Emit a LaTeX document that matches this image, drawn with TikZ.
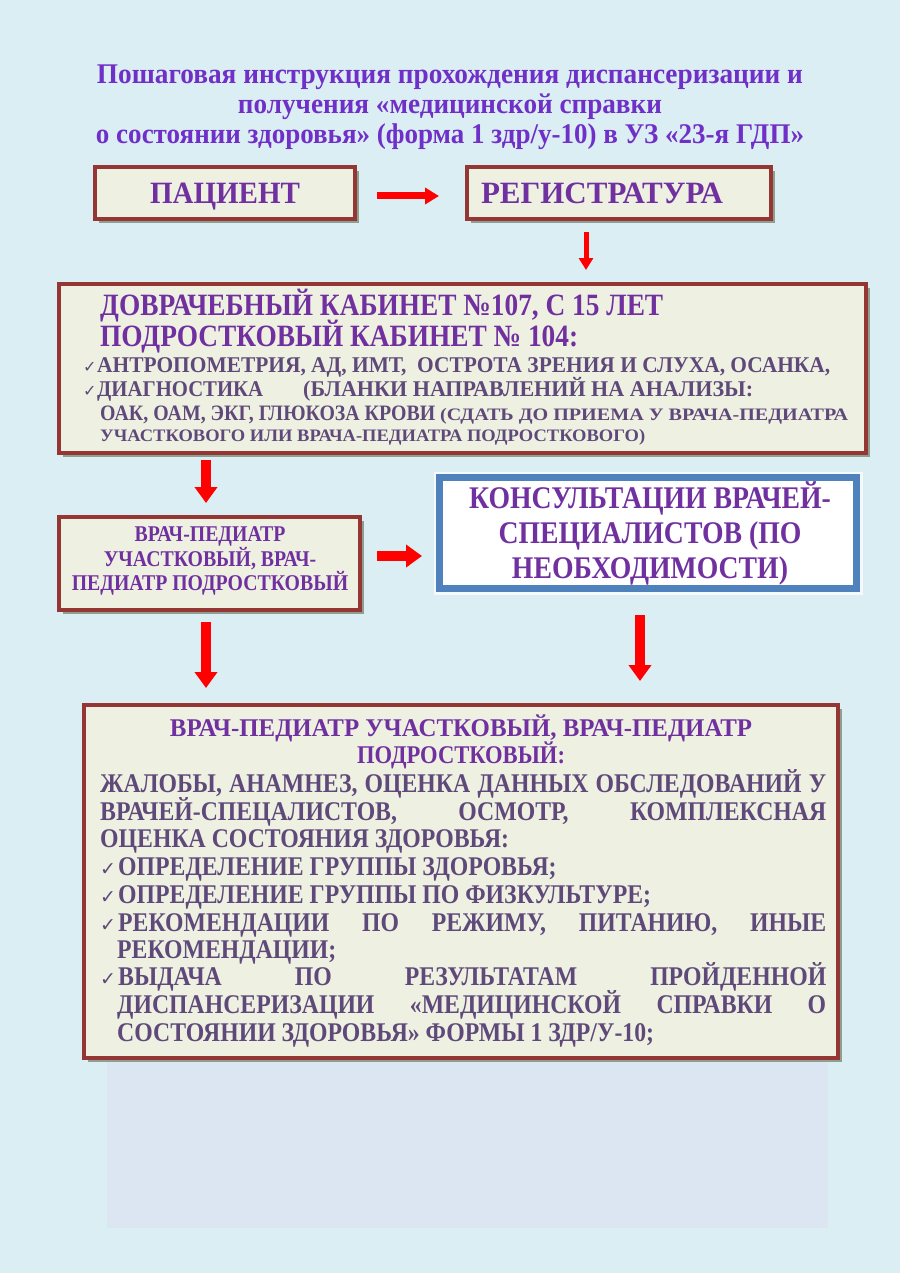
\documentclass[tikz,border=0pt]{standalone}
\usepackage{graphicx}
\usepackage{fontspec}
\setmainfont{Liberation Serif}
\newfontfamily\cfont{Liberation Serif}[FakeStretch=0.88]
\newfontfamily\dejavu{DejaVu Sans}
\usetikzlibrary{arrows.meta,shadows,calc}
\definecolor{bgc}{HTML}{DBEEF4}
\definecolor{palec}{HTML}{DCE6F2}
\definecolor{boxfill}{HTML}{EEF1E1}
\definecolor{boxline}{HTML}{943634}
\definecolor{shadowc}{HTML}{8E9E90}
\definecolor{blueshadow}{HTML}{A4AAB2}
\definecolor{bluel}{HTML}{4F81BD}
\definecolor{titlec}{HTML}{7030C8}
\definecolor{headc}{HTML}{7030A0}
\definecolor{bodyc}{HTML}{5F497A}
\definecolor{arrowc}{HTML}{FF0000}
\newcommand{\fitw}[2]{\resizebox{#1}{\height}{#2}}
\newcommand{\ckm}{\makebox[14pt][l]{\dejavu\fontsize{16}{16}\selectfont ✓}}
\newcommand{\ckb}{\makebox[18pt][l]{\dejavu\fontsize{19}{19}\selectfont ✓}}
\tikzset{
  redbox/.style={draw=boxline, line width=4pt, fill=boxfill,
    drop shadow={shadow xshift=4pt, shadow yshift=-4pt, fill=shadowc, opacity=1},
    inner sep=0pt, text=headc, font=\bfseries},
  bluebox/.style={draw=bluel, line width=7pt, fill=white,
    drop shadow={shadow xshift=4pt, shadow yshift=-5pt, fill=blueshadow, opacity=1},
    preaction={draw=white!70!bgc, line width=12pt},
    inner sep=0pt, text=headc, font=\bfseries},
  txt/.style={inner sep=0pt, anchor=base west, font=\bfseries},
  arrowthin/.style={draw=arrowc, line width=5pt, -{Triangle[length=12pt,width=14pt]}},
  arrowmid/.style={draw=arrowc, line width=7pt, -{Triangle[length=14pt,width=16pt]}},
  arrowthick/.style={draw=arrowc, line width=10pt, -{Triangle[length=16pt,width=22pt]}},
}
\begin{document}
\begin{tikzpicture}[x=1pt,y=-1pt]
\useasboundingbox (0,0) rectangle (900,1273);
\fill[bgc] (0,0) rectangle (900,1273);
\fill[palec] (107,1000) rectangle (828,1228);

% title
\node[align=center, text=titlec, font=\fontsize{28.5}{30}\selectfont\bfseries, inner sep=0pt] (title) at (450,107)
  {\fitw{706pt}{Пошаговая инструкция прохождения диспансеризации и}\\
   \fitw{424pt}{получения «медицинской справки}\\
   \fitw{708pt}{о состоянии здоровья» (форма 1 здр/у-10) в УЗ «23-я ГДП»}};

% boxes
\node[redbox, minimum width=260, minimum height=52, text height=21pt, text depth=0pt,
  font=\fontsize{31}{34}\selectfont\bfseries] (pac) at (225,193) {\fitw{150pt}{ПАЦИЕНТ}};
\node[redbox, minimum width=304, minimum height=52, text height=21pt, text depth=0pt,
  font=\fontsize{31}{34}\selectfont\bfseries] (reg) at (619,193) {\fitw{242pt}{РЕГИСТРАТУРА}\kern34pt};
\node[redbox, minimum width=807, minimum height=169] (box1) at (462.5,368.5) {};
\node[redbox, minimum width=301, minimum height=93] (ped) at (209.5,563.5) {};
\node[bluebox, minimum width=417, minimum height=111] (cons) at (648,533) {};
\node[redbox, minimum width=754, minimum height=353] (final) at (461,881.5) {};

% box1 text
\begin{scope}[every node/.style={txt}]
\node[text=headc, font=\fontsize{31}{31}\selectfont\bfseries] (b1a) at (100,315) {\fitw{563pt}{ДОВРАЧЕБНЫЙ КАБИНЕТ №107, С 15 ЛЕТ}};
\node[text=headc, font=\fontsize{31}{31}\selectfont\bfseries] (b1b) at (100,346) {\fitw{478pt}{ПОДРОСТКОВЫЙ КАБИНЕТ № 104:}};
\node[text=bodyc, font=\fontsize{22.5}{24}\selectfont\bfseries] (b1c) at (83,372) {\ckm\fitw{733pt}{АНТРОПОМЕТРИЯ, АД, ИМТ,\ \ ОСТРОТА ЗРЕНИЯ И СЛУХА, ОСАНКА,}};
\node[text=bodyc, font=\fontsize{22.5}{24}\selectfont\bfseries] (b1d) at (83,396) {\ckm\fitw{166pt}{ДИАГНОСТИКА}\hspace*{40pt}\fitw{450pt}{(БЛАНКИ НАПРАВЛЕНИЙ НА АНАЛИЗЫ:}};
\node[text=bodyc, font=\fontsize{22}{24}\selectfont\bfseries] (b1e) at (100,420) {\fitw{335pt}{ОАК, ОАМ, ЭКГ, ГЛЮКОЗА КРОВИ}\hspace*{5pt}{\fontsize{17.5}{20}\selectfont\fitw{408pt}{(СДАТЬ ДО ПРИЕМА У ВРАЧА-ПЕДИАТРА}}};
\node[text=bodyc, font=\fontsize{17.5}{20}\selectfont\bfseries] (b1f) at (100,441) {\fitw{545pt}{УЧАСТКОВОГО ИЛИ ВРАЧА-ПЕДИАТРА ПОДРОСТКОВОГО)}};
\end{scope}

% ped text
\node[align=center, inner sep=0pt, text=headc, font=\cfont\fontsize{22.5}{22.5}\selectfont\bfseries] (pedt) at (210,561)
  {ВРАЧ-ПЕДИАТР\\ УЧАСТКОВЫЙ, ВРАЧ-\\ ПЕДИАТР ПОДРОСТКОВЫЙ};

% cons text
\node[align=center, inner sep=0pt, text=headc, font=\cfont\fontsize{31.5}{35}\selectfont\bfseries] (const) at (650,533)
  {КОНСУЛЬТАЦИИ ВРАЧЕЙ-\\ СПЕЦИАЛИСТОВ (ПО\\ НЕОБХОДИМОСТИ)};

% final text
\begin{scope}[every node/.style={inner sep=0pt, anchor=base, text=headc, font=\fontsize{25.5}{27}\selectfont\bfseries}]
\node (fh1) at (461,736) {\fitw{582pt}{ВРАЧ-ПЕДИАТР УЧАСТКОВЫЙ, ВРАЧ-ПЕДИАТР}};
\node (fh2) at (461,763) {\fitw{208pt}{ПОДРОСТКОВЫЙ:}};
\end{scope}
\begin{scope}[every node/.style={txt, text=bodyc, font=\cfont\fontsize{27}{28}\selectfont\bfseries}]
\node (f1) at (100,792) {\makebox[726pt][s]{ЖАЛОБЫ, АНАМНЕЗ, ОЦЕНКА ДАННЫХ ОБСЛЕДОВАНИЙ У}};
\node (f2) at (100,820) {\makebox[726pt][s]{ВРАЧЕЙ-СПЕЦАЛИСТОВ, ОСМОТР, КОМПЛЕКСНАЯ}};
\node (f3) at (100,847) {ОЦЕНКА СОСТОЯНИЯ ЗДОРОВЬЯ:};
\node (f4) at (100,875) {\ckb ОПРЕДЕЛЕНИЕ ГРУППЫ ЗДОРОВЬЯ;};
\node (f5) at (100,903) {\ckb ОПРЕДЕЛЕНИЕ ГРУППЫ ПО ФИЗКУЛЬТУРЕ;};
\node (f6) at (100,931) {\makebox[726pt][s]{\ckb РЕКОМЕНДАЦИИ ПО РЕЖИМУ, ПИТАНИЮ, ИНЫЕ}};
\node (f7) at (117,958) {РЕКОМЕНДАЦИИ;};
\node (f8) at (100,985) {\makebox[726pt][s]{\ckb ВЫДАЧА ПО РЕЗУЛЬТАТАМ ПРОЙДЕННОЙ}};
\node (f9) at (117,1013) {\makebox[709pt][s]{ДИСПАНСЕРИЗАЦИИ «МЕДИЦИНСКОЙ СПРАВКИ О}};
\node (f10) at (117,1041) {СОСТОЯНИИ ЗДОРОВЬЯ» ФОРМЫ 1 ЗДР/У-10;};
\end{scope}

% arrow guides
\coordinate (r1) at (0,196);
\coordinate (c2) at (586,0);
\coordinate (c3) at (206,0);
\coordinate (r4) at (0,556);
\coordinate (c6) at (640,0);

% arrows
\draw[arrowmid, shorten <=20pt, shorten >=26pt] (pac.east |- r1) -- (reg.west |- r1);
\draw[arrowthin, shorten <=11pt, shorten >=12pt] (c2 |- reg.south) -- (c2 |- box1.north);
\draw[arrowthick, shorten <=5pt, shorten >=12pt] (c3 |- box1.south) -- (c3 |- ped.north);
\draw[arrowthick, shorten <=15pt, shorten >=14pt] (ped.east |- r4) -- (cons.west |- r4);
\draw[arrowthick, shorten <=10pt, shorten >=15pt] (c3 |- ped.south) -- (c3 |- final.north);
\draw[arrowthick, shorten <=23pt, shorten >=22pt] (c6 |- cons.south) -- (c6 |- final.north);
\end{tikzpicture}
\end{document}
